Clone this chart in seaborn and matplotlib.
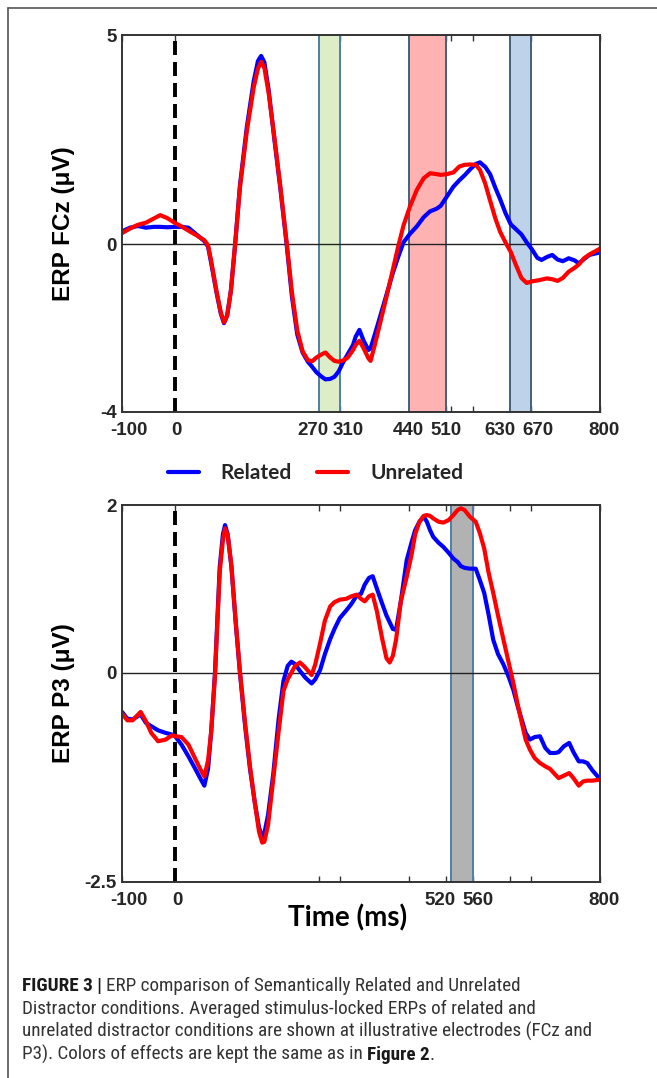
import matplotlib.pyplot as plt
import pandas as pd
import seaborn as sns
from matplotlib import font_manager
from matplotlib.lines import Line2D
from matplotlib.transforms import ScaledTranslation

# ---- data ---------------------------------------------------------------
fcz_time = [-100, -85, -70, -55, -40, -28, -15, 0, 12, 25, 40, 55, 62, 68, 78, 86, 92, 98,
            105, 113, 122, 135, 148, 156, 162, 168, 176, 186, 198, 210, 220, 230, 240, 250,
            258, 266, 275, 283, 292, 300, 308, 316, 325, 335, 340, 347, 355, 364, 368, 376,
            386, 398, 410, 420, 430, 442, 455, 468, 480, 492, 500, 512, 524, 535, 545, 556,
            566, 574, 584, 593, 603, 612, 622, 632, 642, 652, 662, 672, 682, 690, 700, 710,
            720, 730, 741, 752, 760, 770, 780, 790, 800]
fcz_related = [0.31, 0.40, 0.44, 0.40, 0.42, 0.42, 0.41, 0.42, 0.42, 0.40, 0.24, 0.08, -0.05,
               -0.45, -1.15, -1.65, -1.88, -1.70, -1.10, 0.0, 1.40, 2.80, 3.90, 4.38, 4.50,
               4.35, 3.70, 2.60, 1.35, 0.0, -1.25, -2.15, -2.58, -2.80, -2.92, -3.05, -3.15,
               -3.22, -3.21, -3.16, -3.03, -2.82, -2.62, -2.40, -2.20, -2.04, -2.30, -2.52,
               -2.48, -2.15, -1.72, -1.20, -0.68, -0.30, 0.05, 0.25, 0.43, 0.65, 0.79, 0.85,
               0.92, 1.15, 1.38, 1.53, 1.65, 1.80, 1.92, 1.96, 1.85, 1.68, 1.35, 1.08, 0.75,
               0.48, 0.36, 0.24, 0.05, -0.12, -0.32, -0.37, -0.30, -0.25, -0.36, -0.40, -0.33,
               -0.38, -0.45, -0.35, -0.25, -0.22, -0.19]
fcz_unrelated = [0.27, 0.38, 0.47, 0.52, 0.62, 0.70, 0.63, 0.51, 0.43, 0.33, 0.22, 0.10, -0.02,
                 -0.40, -1.12, -1.62, -1.86, -1.70, -1.12, 0.0, 1.35, 2.70, 3.75, 4.20, 4.36,
                 4.22, 3.62, 2.65, 1.40, 0.05, -1.15, -2.05, -2.55, -2.76, -2.79, -2.70, -2.63,
                 -2.58, -2.70, -2.78, -2.80, -2.77, -2.70, -2.52, -2.40, -2.30, -2.48, -2.72,
                 -2.78, -2.40, -1.88, -1.25, -0.60, -0.05, 0.45, 0.90, 1.30, 1.58, 1.70, 1.68,
                 1.66, 1.68, 1.72, 1.86, 1.90, 1.91, 1.90, 1.78, 1.45, 1.05, 0.62, 0.30, 0.05,
                 -0.18, -0.50, -0.80, -0.92, -0.88, -0.86, -0.84, -0.81, -0.83, -0.87, -0.80,
                 -0.65, -0.56, -0.48, -0.33, -0.24, -0.17, -0.10]

p3_time = [-100, -90, -80, -65, -55, -45, -32, -18, -6, 0, 12, 25, 38, 48, 55, 62, 68, 75, 84,
           90, 94, 99, 106, 114, 122, 132, 141, 150, 158, 164, 168, 175, 185, 195, 204, 212,
           219, 226, 235, 245, 257, 264, 273, 282, 292, 300, 310, 322, 332, 342, 350, 357, 365,
           372, 380, 390, 398, 404, 410, 416, 425, 436, 445, 452, 460, 468, 474, 480, 486, 496,
           505, 515, 524, 532, 538, 545, 555, 566, 574, 582, 590, 599, 608, 618, 628, 637, 645,
           652, 660, 668, 677, 687, 697, 706, 716, 722, 732, 742, 750, 760, 768, 776, 786, 797,
           800]
p3_related = [-0.47, -0.55, -0.56, -0.50, -0.60, -0.64, -0.69, -0.72, -0.74, -0.76, -0.86,
              -1.00, -1.15, -1.27, -1.35, -1.15, -0.70, -0.01, 1.26, 1.65, 1.76, 1.65, 1.26,
              0.60, 0.00, -0.65, -1.15, -1.55, -1.85, -1.96, -1.92, -1.70, -1.20, -0.55, -0.10,
              0.08, 0.13, 0.10, 0.02, -0.06, -0.13, -0.08, 0.03, 0.22, 0.40, 0.52, 0.65, 0.74,
              0.82, 0.92, 0.94, 1.05, 1.13, 1.15, 1.00, 0.82, 0.68, 0.60, 0.52, 0.51, 0.85,
              1.34, 1.55, 1.70, 1.80, 1.86, 1.80, 1.70, 1.62, 1.55, 1.50, 1.43, 1.36, 1.32,
              1.27, 1.25, 1.24, 1.24, 1.10, 0.95, 0.70, 0.39, 0.22, 0.10, -0.05, -0.21, -0.40,
              -0.55, -0.72, -0.80, -0.77, -0.76, -0.90, -0.96, -0.96, -0.95, -0.88, -0.84,
              -0.95, -1.06, -1.06, -1.08, -1.17, -1.25, -1.25]
p3_unrelated = [-0.49, -0.57, -0.57, -0.47, -0.58, -0.72, -0.82, -0.80, -0.75, -0.76, -0.77,
                -0.86, -1.03, -1.16, -1.24, -1.05, -0.70, -0.05, 1.20, 1.58, 1.72, 1.64, 1.28,
                0.62, 0.02, -0.62, -1.12, -1.55, -1.90, -2.03, -2.02, -1.82, -1.26, -0.70,
                -0.22, -0.08, 0.00, 0.08, 0.12, 0.06, -0.03, 0.10, 0.35, 0.62, 0.79, 0.84, 0.87,
                0.88, 0.91, 0.93, 0.88, 0.85, 0.91, 0.93, 0.73, 0.40, 0.17, 0.12, 0.20, 0.39,
                0.85, 1.14, 1.40, 1.65, 1.80, 1.87, 1.88, 1.87, 1.84, 1.80, 1.79, 1.82, 1.88,
                1.94, 1.96, 1.94, 1.86, 1.80, 1.66, 1.48, 1.20, 0.95, 0.68, 0.40, 0.12, -0.13,
                -0.38, -0.58, -0.80, -0.92, -1.02, -1.08, -1.12, -1.15, -1.22, -1.26, -1.23,
                -1.20, -1.26, -1.35, -1.30, -1.29, -1.29, -1.28, -1.28]

conditions = ["Related", "Unrelated"]
line_colors = ["#0000ff", "#ff0000"]

x_ticks = [-100, 0, 270, 310, 440, 510, 520, 560, 630, 670, 800]
fcz_xlabels = ["-100", "0", "270", "310", "440", "510", "", "", "630", "670", "800"]
p3_xlabels = ["-100", "0", "", "", "", "", "520", "560", "", "", "800"]
fcz_yticks = [-4, 0, 5]
p3_yticks = [-2.5, 0, 2]

fcz_windows = [(270, 310, "#dcedc8", "#4e7fa8"), (440, 510, "#ffb2b2", "#42607c"),
               (630, 670, "#bed3e9", "#42607c")]
p3_windows = [(520, 560, "#b2b2b2", "#4e7fa8")]

# nudges (px) of the crowded tick labels
fcz_label_shift = [7, 1, -6, 8, 0, 0, 0, 0, -10, 7, 4]
p3_label_shift = [7, 2, 0, 0, 0, 0, -11, 5, 0, 0, 4]

caption_lines = [
    "ERP comparison of Semantically Related and Unrelated",
    "Distractor conditions. Averaged stimulus-locked ERPs of related and",
    "unrelated distractor conditions are shown at illustrative electrodes (FCz and",
    "P3). Colors of effects are kept the same as in",
]


def long_frame(time, related, unrelated):
    return pd.DataFrame({
        "time": time * 2,
        "amp": related + unrelated,
        "condition": ["Related"] * len(time) + ["Unrelated"] * len(time),
    })


def has_font(name):
    try:
        font_manager.findfont(name, fallback_to_default=False)
        return True
    except ValueError:
        return False


sns.set_theme(style="white")
plt.rcParams["font.family"] = ["Liberation Sans", "DejaVu Sans"]

W, H = 657, 1078
fig = plt.figure(figsize=(W / 100, H / 100), dpi=100)
ax1 = fig.add_axes([122 / W, 1 - 412 / H, 478 / W, 377 / H])
ax2 = fig.add_axes([122 / W, 1 - 882 / H, 478 / W, 377 / H])

panels = [
    (ax1, long_frame(fcz_time, fcz_related, fcz_unrelated), fcz_windows, (-4, 5),
     fcz_yticks, fcz_xlabels, fcz_label_shift, "ERP FCz (\u03bcV)"),
    (ax2, long_frame(p3_time, p3_related, p3_unrelated), p3_windows, (-2.5, 2),
     p3_yticks, p3_xlabels, p3_label_shift, "ERP P3 (\u03bcV)"),
]

for ax, df, windows, ylim, yticks, xlabels, shifts, ylabel in panels:
    for lo, hi, face, edge in windows:
        ax.axvspan(lo, hi, facecolor=face, edgecolor=edge, lw=1.4, zorder=1)
    ax.axhline(0, color="#222222", lw=1.0, zorder=2)
    ax.axvline(0, color="black", lw=2.8, ls=(0, (3.6, 1.8)), zorder=2)
    sns.lineplot(data=df, x="time", y="amp", hue="condition", hue_order=conditions,
                 palette=line_colors, estimator=None, sort=False, lw=3.0,
                 legend=False, ax=ax, zorder=3)

    ax.set_xlim(-100, 800)
    ax.set_ylim(*ylim)
    ax.set_xticks(x_ticks)
    ax.set_xticklabels(xlabels)
    ax.set_yticks(yticks)
    ax.set_yticklabels([f"{v:g}" for v in yticks])
    ax.tick_params(axis="x", direction="in", top=True, bottom=True, length=4, width=1,
                   color="#333333", pad=7, labelsize=13.5, labelcolor="#262626")
    ax.tick_params(axis="y", direction="in", left=True, length=0, pad=4,
                   labelsize=13.5, labelcolor="#262626")
    for lab in ax.get_xticklabels() + ax.get_yticklabels():
        lab.set_fontweight("bold")
    for lab, dx in zip(ax.get_xticklabels(), shifts):
        lab.set_transform(lab.get_transform() + ScaledTranslation(dx / 100, 0, fig.dpi_scale_trans))

    for sp in ax.spines.values():
        sp.set_color("#333333")
        sp.set_linewidth(1.4)
        sp.set_zorder(4)

    ax.set_xlabel("")
    ax.set_ylabel(ylabel, fontsize=17.5, fontweight="bold", color="black")
    ax.yaxis.set_label_coords(-0.098, 0.5)

ax2.set_xlabel("Time (ms)", fontsize=20, fontweight="bold", color="black",
               family=["Lato", "DejaVu Sans"])
ax2.xaxis.set_label_coords(0.4717, -0.058)

handles = [Line2D([], [], color=c, lw=3.0) for c in line_colors]
fig.legend(handles, conditions, loc="center", bbox_to_anchor=(0.48, 1 - 473 / H), ncol=2,
           frameon=False, handlelength=1.5, handletextpad=1.05, columnspacing=1.2,
           prop={"family": ["Lato", "DejaVu Sans"], "weight": "bold", "size": 15})

# outer frame of the figure panel
fig.add_artist(Line2D([8 / W, 1], [1 - 8 / H] * 2, transform=fig.transFigure,
                      color="#555555", lw=1.2))
fig.add_artist(Line2D([8 / W] * 2, [0, 1 - 8 / H], transform=fig.transFigure,
                      color="#555555", lw=1.2))

# caption: condensed face if there is one, sized so line 3 spans ~568 px like the original
cap_font = next((f for f in ["Roboto Condensed", "Liberation Sans Narrow", "Arial Narrow"]
                 if has_font(f)), "Liberation Sans")
x0 = 22 / W
baselines = [991, 1014, 1037, 1060]
cap_texts = []
t1 = fig.text(x0, 1 - baselines[0] / H, "FIGURE 3 |", fontweight="bold",
              family=cap_font, color="#1a1a1a", va="baseline")
cap_texts.append(t1)
cap_texts.append(ax2.annotate(caption_lines[0], xy=(1, 0), xycoords=t1, xytext=(3, 0),
                              textcoords="offset points", va="bottom", ha="left",
                              family=cap_font, color="#333333", annotation_clip=False))
for line, base in zip(caption_lines[1:], baselines[1:]):
    cap_texts.append(fig.text(x0, 1 - base / H, line, family=cap_font, color="#333333",
                              va="baseline"))
t4 = cap_texts[-1]
t5 = ax2.annotate("Figure 2", xy=(1, 0), xycoords=t4, xytext=(3, 0), textcoords="offset points",
                  va="bottom", ha="left", fontweight="bold", family=cap_font,
                  color="#1a1a1a", annotation_clip=False)
t6 = ax2.annotate(".", xy=(1, 0), xycoords=t5, va="bottom", ha="left", family=cap_font,
                  color="#333333", annotation_clip=False)
cap_texts += [t5, t6]

size = 13.0
for t in cap_texts:
    t.set_fontsize(size)
fig.canvas.draw()
width = cap_texts[3].get_window_extent().width
size = size * 568 / width
for t in cap_texts:
    t.set_fontsize(size)

fig.savefig("out.png", dpi=100)
